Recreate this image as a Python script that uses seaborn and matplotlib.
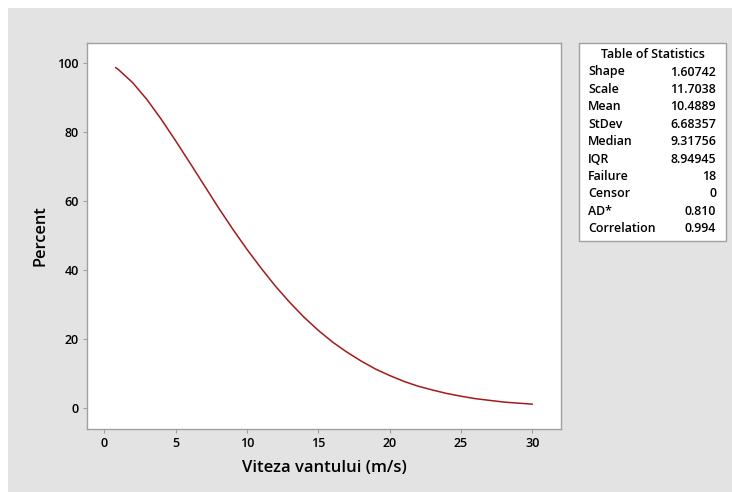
import numpy as np
import pandas as pd
import seaborn as sns
import matplotlib.pyplot as plt
from matplotlib.patches import Rectangle

# survival curve points
wind_speed = [0.8, 1, 2, 3, 4, 5, 6, 7, 8, 9, 10, 11, 12, 13, 14, 15, 16, 17, 18,
              19, 20, 21, 22, 23, 24, 25, 26, 27, 28, 29, 30]
percent = [98.7, 98.1, 94.3, 89.4, 83.7, 77.5, 71.1, 64.6, 58.1, 51.9, 46.0, 40.5,
           35.3, 30.6, 26.3, 22.5, 19.1, 16.2, 13.6, 11.3, 9.4, 7.7, 6.3, 5.2, 4.2,
           3.4, 2.7, 2.2, 1.7, 1.4, 1.1]

stat_names = ["Shape", "Scale", "Mean", "StDev", "Median", "IQR", "Failure",
              "Censor", "AD*", "Correlation"]
stat_values = ["1.60742", "11.7038", "10.4889", "6.68357", "9.31756", "8.94945",
               "18", "0", "0.810", "0.994"]

x_ticks = [0, 5, 10, 15, 20, 25, 30]
y_ticks = [0, 20, 40, 60, 80, 100]

sns.set_style("white")
plt.rcParams['font.family'] = ['Open Sans', 'DejaVu Sans']
plt.rcParams['text.color'] = 'black'
plt.rcParams['xtick.color'] = 'black'
plt.rcParams['ytick.color'] = 'black'

W, H = 732, 492
fig = plt.figure(figsize=(W / 100, H / 100), dpi=100)
fig.patch.set_facecolor("white")
fig.patches.append(Rectangle((8 / W, 0), 1, 1 - 8 / H, transform=fig.transFigure,
                             facecolor="#e3e3e3", edgecolor="none", zorder=-10))

ax = fig.add_axes([87 / W, (H - 429) / H, (561 - 87) / W, (429 - 43) / H])
df = pd.DataFrame({"x": wind_speed, "y": percent})
sns.lineplot(data=df, x="x", y="y", ax=ax, color="#a31a1a", linewidth=1.1)

ax.set_xlim(-1.2, 32)
ax.set_ylim(-6.1, 105.8)
ax.set_xticks(x_ticks)
ax.set_yticks(y_ticks)
ax.tick_params(axis="both", which="major", direction="out", length=3, width=0.8,
               color="#a0a0a0", labelcolor="black", labelsize=9, pad=3,
               bottom=True, left=True)
for lab in ax.get_xticklabels() + ax.get_yticklabels():
    lab.set_fontweight("semibold")
for s in ax.spines.values():
    s.set_color("#a0a0a0")
    s.set_linewidth(1.0)

ax.set_xlabel("")
ax.set_ylabel("")
fig.text(324 / W, 1 - 468 / H, "Viteza vantului (m/s)", ha="center", va="center",
         fontsize=12, fontweight="semibold")
fig.text(40 / W, 1 - 236 / H, "Percent", ha="center", va="center", rotation=90,
         fontsize=11.8, fontweight="semibold")

# table of statistics
fig.patches.append(Rectangle((579 / W, 1 - 241 / H), (726 - 579) / W, (241 - 43) / H,
                             transform=fig.transFigure, facecolor="white",
                             edgecolor="#a0a0a0", linewidth=1.0, zorder=1))
fig.text(653 / W, 1 - 55 / H, "Table of Statistics", ha="center", va="center",
         fontsize=8.9, fontweight="semibold", zorder=2)
for i, (n, v) in enumerate(zip(stat_names, stat_values)):
    yy = 1 - (72 + i * 17.4) / H
    fig.text(588 / W, yy, n, ha="left", va="center", fontsize=8.9,
             fontweight="semibold", zorder=2)
    fig.text(716 / W, yy, v, ha="right", va="center", fontsize=8.9,
             fontweight="semibold", zorder=2)

fig.savefig("out.png", dpi=100)
